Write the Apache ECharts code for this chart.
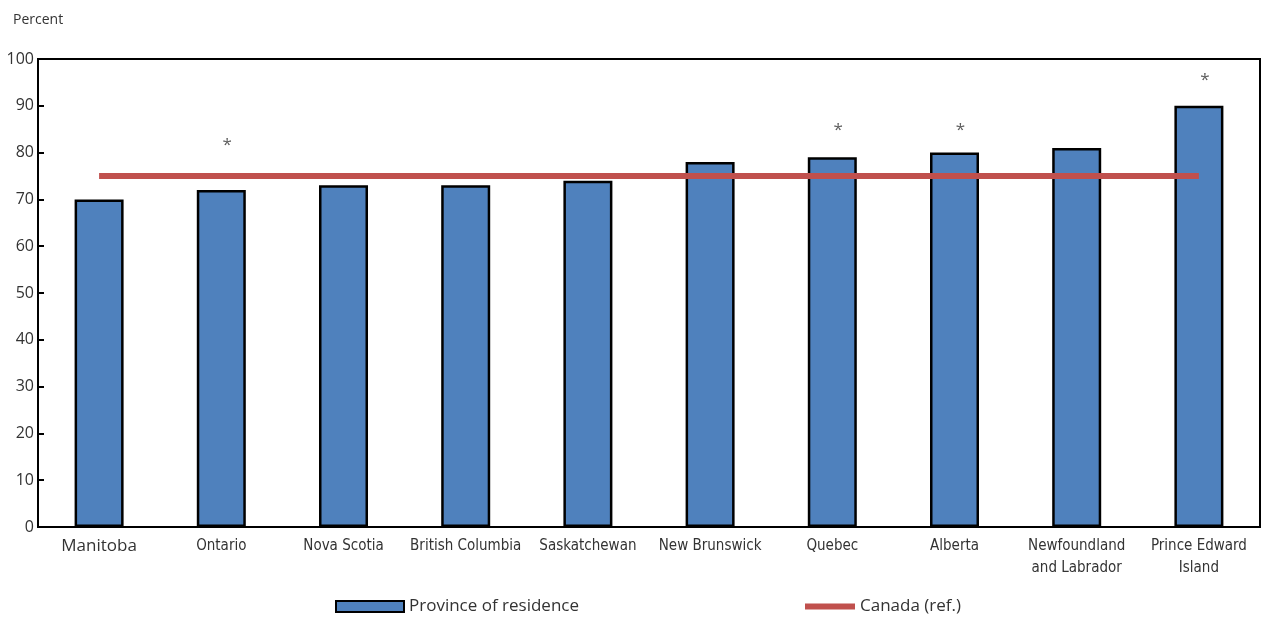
<!DOCTYPE html>
<html>
<head>
<meta charset="utf-8">
<script src="https://cdn.jsdelivr.net/npm/echarts@6/dist/echarts.min.js"></script>
<style>
  html, body { margin: 0; padding: 0; background: #fff; }
  #chart { width: 1266px; height: 618px; }
</style>
</head>
<body>
<div id="chart"></div>
<script>
// Provinces, ordered by share
const provinces = ['Manitoba', 'Ontario', 'Nova Scotia', 'British Columbia', 'Saskatchewan',
  'New Brunswick', 'Quebec', 'Alberta', 'Newfoundland\nand Labrador', 'Prince Edward\nIsland'];
// Percent, by province of residence
const provinceValues = [70, 72, 73, 73, 74, 78, 79, 80, 81, 90];
// Canada reference level
const canadaValue = 75;
// Height (percent scale) at which the significance marker sits; null = no marker
const starLevels = [null, 81.5, null, null, null, null, 84.8, 84.8, null, 95.5];
const yTicks = { min: 0, max: 100, interval: 10 };

const narrow = "'Liberation Sans Narrow', 'DejaVu Sans Condensed', 'Arial Narrow', sans-serif";
const regular = "'Open Sans', 'Noto Sans', sans-serif";

const chart = echarts.init(document.getElementById('chart'), null, { renderer: 'canvas' });
chart.setOption({
  animation: false,
  title: {
    text: 'Percent', left: 8, top: 8,
    textStyle: { fontFamily: regular, fontSize: 14, fontWeight: 'normal', color: '#333' }
  },
  grid: {
    left: 38, right: 6, top: 59, bottom: 91,
    show: true, borderColor: '#000', borderWidth: 2
  },
  legend: [
    {
      data: [{ name: 'Province of residence', icon: 'rect' }],
      left: 330, top: 593, itemWidth: 68, itemHeight: 11, itemGap: 12,
      textStyle: { fontFamily: regular, fontSize: 17, color: '#333' }
    },
    {
      data: [{ name: 'Canada (ref.)', icon: 'rect', itemStyle: { color: '#C0504D', borderWidth: 0 } }],
      left: 800, top: 593, itemWidth: 50, itemHeight: 6,
      textStyle: { fontFamily: regular, fontSize: 17, color: '#333' }
    }
  ],
  xAxis: {
    type: 'category',
    data: provinces,
    axisLine: { lineStyle: { color: '#000', width: 2 } },
    axisTick: { inside: true, length: 6, lineStyle: { color: '#000', width: 2 } },
    axisLabel: {
      interval: 0, margin: 8, color: '#333', lineHeight: 22,
      fontFamily: narrow, fontSize: 15,
      formatter: v => v === 'Manitoba' ? '{big|' + v + '}' : v,
      rich: { big: { fontFamily: regular, fontSize: 17, color: '#333' } }
    }
  },
  yAxis: {
    type: 'value',
    min: yTicks.min, max: yTicks.max, interval: yTicks.interval,
    splitLine: { show: false },
    axisLine: { show: true, lineStyle: { color: '#000', width: 2 } },
    axisTick: { show: true, inside: true, length: 6, lineStyle: { color: '#000', width: 2 } },
    axisLabel: { fontFamily: regular, fontSize: 16, color: '#333', margin: 4 }
  },
  series: [
    {
      name: 'Province of residence',
      type: 'bar',
      data: provinceValues,
      barWidth: 49,
      itemStyle: { color: '#4F81BD', borderColor: '#000', borderWidth: 2.5 },
      z: 2
    },
    {
      name: 'Canada (ref.)',
      type: 'line',
      data: provinces.map(() => canadaValue),
      symbol: 'none',
      lineStyle: { color: '#C0504D', width: 6 },
      itemStyle: { color: '#C0504D' },
      z: 3
    },
    {
      name: 'marker',
      type: 'scatter',
      data: starLevels,
      symbolSize: 0,
      label: {
        show: true, position: 'inside', formatter: '*', offset: [6, 0],
        fontFamily: regular, fontSize: 17, color: '#333'
      },
      z: 4
    }
  ]
});
</script>
</body>
</html>
